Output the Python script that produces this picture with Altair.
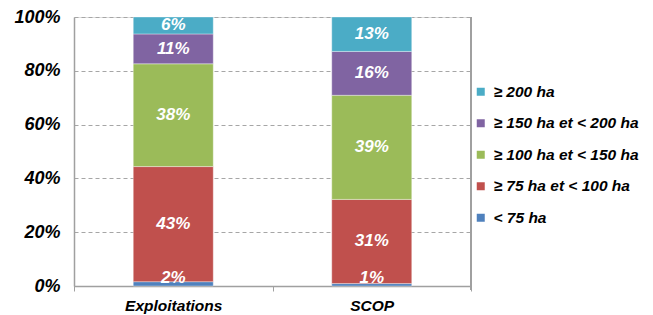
import altair as alt
import pandas as pd

categories = ["Exploitations", "SCOP"]
classes = ["< 75 ha", "≥ 75 ha et < 100 ha", "≥ 100 ha et < 150 ha", "≥ 150 ha et < 200 ha", "≥ 200 ha"]
colors = ["#4F81BD", "#C0504D", "#9BBB59", "#8064A2", "#4BACC6"]
exploitations = [1.6, 42.8, 38.2, 11.1, 6.3]
scop = [0.9, 31.3, 38.7, 16.3, 12.8]
y_ticks = [0, 20, 40, 60, 80, 100]

rows = []
for cat, vals in zip(categories, [exploitations, scop]):
    start = 0.0
    for i, (cls, v) in enumerate(zip(classes, vals)):
        end = start + v
        mid = (start + end) / 2
        rows.append({
            "cat": cat, "cls": cls, "rank": i, "v": v,
            "y0": start, "y1": end, "ymid": max(mid, 2.8),
            "label": f"{round(v)}%",
        })
        start = end
df = pd.DataFrame(rows)

font = "Liberation Sans"
W, H = 397, 269

x = alt.X("cat:N", sort=categories, title=None,
          scale=alt.Scale(paddingInner=0, paddingOuter=0),
          axis=alt.Axis(labelAngle=0, labelFont=font, labelFontSize=15.5, labelFontWeight="bold",
                        labelFontStyle="italic", labelColor="#000000", labelPadding=7,
                        tickBand="extent", tickSize=5, tickColor="#A0A0A0",
                        domainColor="#A0A0A0", domainWidth=1.5, grid=False))
yscale = alt.Scale(domain=[0, 100], nice=False, zero=True)

bars = alt.Chart(df).mark_bar(size=80, stroke="#FFFFFF", strokeWidth=0.6, strokeOpacity=0.6).encode(
    x=x,
    y=alt.Y("y0:Q", scale=yscale, title=None,
            axis=alt.Axis(values=y_ticks, labelExpr="datum.value + '%'", labelFont=font,
                          labelFontSize=18, labelFontWeight="bold", labelFontStyle="italic",
                          labelColor="#000000", labelPadding=14, ticks=False,
                          domainColor="#A0A0A0", domainWidth=1.5,
                          grid=True, gridColor="#A6A6A6", gridDash=[4, 3], gridWidth=1)),
    y2="y1:Q",
    color=alt.Color("cls:N", scale=alt.Scale(domain=classes[::-1], range=colors[::-1]),
                    legend=alt.Legend(title=None, orient="none", legendX=399, legendY=67,
                                      symbolType="square", symbolSize=64, symbolStrokeWidth=0,
                                      labelFont=font, labelFontSize=15.5, labelFontWeight="bold",
                                      labelFontStyle="italic", labelColor="#000000",
                                      labelOffset=5, rowPadding=14.5, labelLimit=300)),
)

texts = alt.Chart(df).mark_text(font=font, fontSize=17, fontWeight="bold", fontStyle="italic",
                                color="#FFFFFF", baseline="middle").encode(
    x=alt.X("cat:N", sort=categories),
    y=alt.Y("ymid:Q", scale=yscale),
    text="label:N",
)

border = alt.Chart(df).mark_rule(color="#A0A0A0", strokeWidth=1.5).encode(
    x=alt.value(W), y=alt.value(0), y2=alt.value(H + 4))

chart = alt.layer(bars, texts, border).properties(
    width=W, height=H,
    autosize=alt.AutoSizeParams(type="none"),
    padding={"left": 66, "top": 9, "right": 174, "bottom": 30},
).configure_view(stroke=None).configure(background="#FFFFFF")

chart.save("out.html", embed_options={"renderer": "svg", "actions": False})
